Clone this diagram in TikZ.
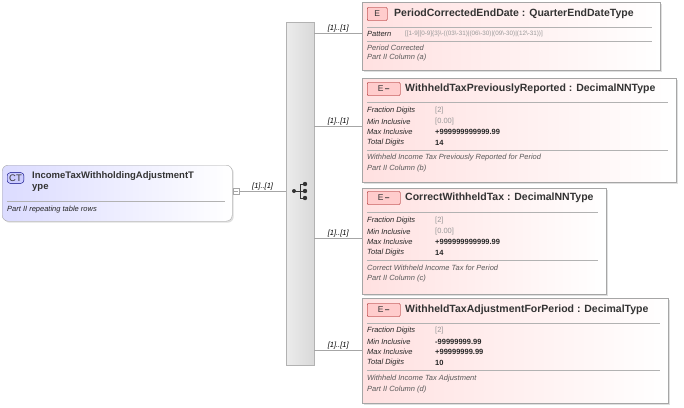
\documentclass[tikz,border=0pt]{standalone}
\usepackage{fontspec}
\setmainfont{Liberation Sans}
\usetikzlibrary{positioning,shadows}
\tikzset{
  elem/.style={draw=gray!70, left color=red!12, right color=white, anchor=north west,
    inner sep=0pt, drop shadow={opacity=0.25, shadow xshift=1.5pt, shadow yshift=-1.5pt}},
  ctype/.style={draw=gray!70, rounded corners=6pt, left color=blue!14, right color=white,
    anchor=north west, inner sep=0pt, drop shadow={opacity=0.25, shadow xshift=1.5pt, shadow yshift=-1.5pt}},
  title/.style={anchor=west, font=\fontsize{10.5}{11}\selectfont\bfseries, text=black!80, inner sep=0pt},
  row/.style={anchor=west, font=\fontsize{7.5}{8}\selectfont\itshape, text=black!85, inner sep=0pt},
  val/.style={anchor=west, font=\fontsize{7.5}{8}\selectfont\bfseries, text=black!85, inner sep=0pt},
  dim/.style={anchor=west, font=\fontsize{7.5}{8}\selectfont, text=gray!80, inner sep=0pt},
  badge/.style={draw=red!60!black, fill=red!20, rounded corners=1pt, anchor=west,
    minimum height=13pt, inner sep=2pt, font=\fontsize{8.5}{9}\selectfont, text=black!80},
  sep/.style={draw=gray!60},
  conn/.style={draw=gray!70},
  mult/.style={font=\fontsize{7.5}{8}\selectfont\itshape, inner sep=0pt, anchor=south}
}
\newcommand{\facetrows}[7]{% x, y, fraction, min style, min, max, total
  \node[row] at (#1+5,#2) {Fraction Digits}; \node[dim] at (#1+73,#2) {[#3]};
  \node[row] at (#1+5,#2+10.5) {Min Inclusive}; \node[#4] at (#1+73,#2+10.5) {#5};
  \node[row] at (#1+5,#2+21) {Max Inclusive}; \node[val] at (#1+73,#2+21) {#6};
  \node[row] at (#1+5,#2+31.5) {Total Digits}; \node[val] at (#1+73,#2+31.5) {#7};
}
\begin{document}
\begin{tikzpicture}[x=1pt,y=-1pt]
  \useasboundingbox (0,0) rectangle (684,407);

  % complex type
  \node[ctype, minimum width=230pt, minimum height=56pt] (ct) at (2,165) {};
  \node[draw=blue!50!black, fill=blue!20, rounded corners=3pt, anchor=west, inner sep=2pt,
    font=\fontsize{9.5}{9.5}\selectfont, text=black!80] (ctb) at (7,178) {CT};
  \node[title, anchor=north west, text width=198pt, font=\fontsize{9.5}{11}\selectfont\bfseries] (ctt) at (32,171)
    {IncomeTaxWithholdingAdjustmentT\\ype};
  \draw[sep] (7,201) -- (225,201);
  \node[row] at (7,210) {Part II repeating table rows};
  \node[draw=gray!70, fill=white, minimum size=6pt, inner sep=0pt] (ctbox) at (236,191) {};
  \draw[gray!70] (234,191) -- (238,191);

  % sequence
  \node[draw=gray!60, left color=gray!15, right color=gray!30, anchor=north west,
    minimum width=28pt, minimum height=343pt, inner sep=0pt] (seq) at (286,22) {};
  \draw[conn] (ctbox.east) -- node[mult, above=1pt] {[1]..[1]} (seq.west |- ctbox);
  \begin{scope}[black!80, line width=0.8pt]
    \fill (294,191) circle (2pt);
    \draw (294,191) -- (300,191) (300,184) -- (300,198) (300,184) -- (305,184) (300,191) -- (305,191) (300,198) -- (305,198);
    \foreach \yy in {184,191,198} \fill (305,\yy) circle (2.2pt);
  \end{scope}

  % element 1
  \node[elem, minimum width=298pt, minimum height=68pt] (e1) at (362,2) {};
  \node[badge, minimum width=20pt] at (367,14) {E};
  \node[title] at (394,14) {PeriodCorrectedEndDate : QuarterEndDateType};
  \draw[sep] (367,27) -- (652,27);
  \node[row] at (367,34) {Pattern};
  \node[dim, font=\fontsize{6.3}{7}\selectfont] at (405,34) {[[1-9][0-9]\{3\}\textbackslash-((03\textbackslash-31)|(06\textbackslash-30)|(09\textbackslash-30)|(12\textbackslash-31))]};
  \draw[sep] (367,41) -- (652,41);
  \node[row, text=black!65] at (367,48) {Period Corrected};
  \node[row, text=black!65] at (367,58) {Part II Column (a)};

  % element 2
  \node[elem, minimum width=314pt, minimum height=104pt] (e2) at (362,78) {};
  \node[badge, minimum width=33pt] at (367,89) {E\,\textbf{--}};
  \node[title] at (405,89) {WithheldTaxPreviouslyReported : DecimalNNType};
  \draw[sep] (367,102) -- (668,102);
  \facetrows{362}{111}{2}{dim}{[0.00]}{+999999999999.99}{14}
  \draw[sep] (367,150) -- (668,150);
  \node[row, text=black!65] at (367,158) {Withheld Income Tax Previously Reported for Period};
  \node[row, text=black!65] at (367,169) {Part II Column (b)};

  % element 3
  \node[elem, minimum width=244pt, minimum height=106pt] (e3) at (362,188) {};
  \node[badge, minimum width=33pt] at (367,198) {E\,\textbf{--}};
  \node[title] at (405,198) {CorrectWithheldTax : DecimalNNType};
  \draw[sep] (367,212) -- (598,212);
  \facetrows{362}{221}{2}{dim}{[0.00]}{+999999999999.99}{14}
  \draw[sep] (367,260) -- (598,260);
  \node[row, text=black!65] at (367,268) {Correct Withheld Income Tax for Period};
  \node[row, text=black!65] at (367,279) {Part II Column (c)};

  % element 4
  \node[elem, minimum width=306pt, minimum height=105pt] (e4) at (362,298) {};
  \node[badge, minimum width=33pt] at (367,310) {E\,\textbf{--}};
  \node[title] at (405,310) {WithheldTaxAdjustmentForPeriod : DecimalType};
  \draw[sep] (367,323) -- (660,323);
  \facetrows{362}{331}{2}{val}{-99999999.99}{+99999999.99}{10}
  \draw[sep] (367,370) -- (660,370);
  \node[row, text=black!65] at (367,379) {Withheld Income Tax Adjustment};
  \node[row, text=black!65] at (367,390) {Part II Column (d)};

  % connectors
  \foreach \e/\yy in {e1/33,e2/126,e3/238,e4/350}
    \draw[conn] (seq.east |- 0,\yy) -- node[mult, above=1pt] {[1]..[1]} (\e.west |- 0,\yy);
\end{tikzpicture}
\end{document}
